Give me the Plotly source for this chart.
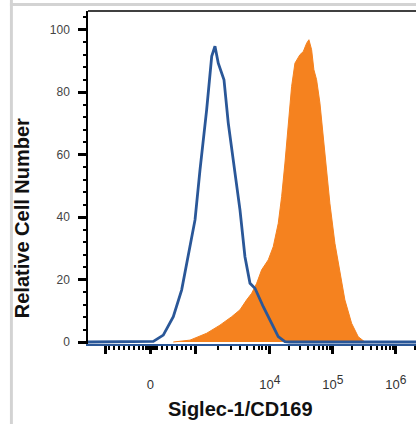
import plotly.graph_objects as go

# Display units: decades on a biexponential-like scale (10^4 -> 4, 10^5 -> 5 ...)
isotype_x = [1.11, 2.10, 2.148, 2.306, 2.465, 2.598, 2.730, 2.810, 2.889, 2.995, 3.075, 3.127,
             3.179, 3.233, 3.270, 3.338, 3.444, 3.524, 3.603, 3.683, 3.762, 3.894, 4.027,
             4.132, 4.238, 4.317, 6.32]
isotype_y = [0, 0, 0.2, 2.2, 8.1, 16.7, 30.5, 39.1, 55.1, 74.4, 91.5, 94.7,
             89.3, 86.1, 84.0, 70.1, 55.1, 42.3, 27.3, 18.8, 17.2, 11.3, 6.0,
             1.7, 0.1, 0, 0]

siglec_x = [2.465, 2.730, 2.995, 3.206, 3.392, 3.524, 3.630, 3.710, 3.789, 3.868, 3.973,
            4.052, 4.132, 4.186, 4.238, 4.290, 4.344, 4.397, 4.476, 4.529, 4.583, 4.619,
            4.662, 4.698, 4.741, 4.794, 4.873, 4.952, 5.032, 5.111, 5.190, 5.297, 5.402, 5.508]
siglec_y = [0, 0.6, 2.8, 5.4, 8.1, 10.3, 13.5, 15.6, 18.8, 23.1, 26.3,
            30.5, 38.0, 46.6, 57.3, 70.1, 81.8, 89.3, 92.0, 93.0, 95.7, 96.8,
            93.6, 87.2, 84.0, 76.5, 59.4, 44.4, 31.6, 22.0, 13.5, 6.0, 1.7, 0]

x_major_vals = [1.38, 2.10, 2.81, 4, 5, 6]
x_major_text = [" ", "0", " ",
                "10<sup><span style='font-size:12px'>4</span></sup>",
                "10<sup><span style='font-size:12px'>5</span></sup>",
                "10<sup><span style='font-size:12px'>6</span></sup>"]
x_minor_vals = [1.45, 1.52, 1.60, 1.68, 1.76, 1.84, 1.92, 1.98, 2.03, 2.05, 2.07, 2.09,
                2.11, 2.13, 2.15, 2.17, 2.20, 2.28, 2.36, 2.44, 2.52, 2.60, 2.67, 2.74,
                3.17, 3.38, 3.53, 3.64, 3.74, 3.82, 3.88, 3.94,
                4.30, 4.48, 4.60, 4.70, 4.78, 4.85, 4.90, 4.95,
                5.30, 5.48, 5.60, 5.70, 5.78, 5.85, 5.90, 5.95, 6.30]
y_major_vals = [0, 20, 40, 60, 80, 100]

ORANGE = "#F5821F"
BLUE = "#2A5798"

fig = go.Figure()
fig.add_trace(go.Scatter(x=siglec_x, y=siglec_y, mode="lines", fill="tozeroy",
                         line=dict(color=ORANGE, width=1), fillcolor=ORANGE,
                         hoverinfo="skip", showlegend=False))
fig.add_trace(go.Scatter(x=isotype_x, y=isotype_y, mode="lines",
                         line=dict(color=BLUE, width=2.8),
                         hoverinfo="skip", showlegend=False))

fig.update_layout(
    width=416, height=424,
    margin=dict(l=88, r=0, t=11, b=80),
    paper_bgcolor="white", plot_bgcolor="white",
    font=dict(family="Arial", color="#333333"),
    xaxis=dict(range=[1.11, 6.32], showgrid=False, zeroline=False,
               showline=True, linecolor=BLUE, linewidth=1.5,
               tickmode="array", tickvals=x_major_vals, ticktext=x_major_text,
               ticks="outside", ticklen=8, tickwidth=2.5, tickcolor="black",
               ticklabelstandoff=20, tickfont=dict(size=13, color="#333333"),
               minor=dict(tickmode="array", tickvals=x_minor_vals, ticks="outside",
                          ticklen=4, tickwidth=1.5, tickcolor="black")),
    yaxis=dict(range=[-0.64, 106], showgrid=False, zeroline=False,
               showline=True, linecolor="black", linewidth=1.5,
               tickmode="array", tickvals=y_major_vals,
               ticks="outside", ticklen=8, tickwidth=3, tickcolor="black",
               ticklabelstandoff=6, tickfont=dict(size=12, color="#444444"),
               minor=dict(dtick=4, tick0=0, ticks="outside", ticklen=3,
                          tickwidth=1.5, tickcolor="black")),
    shapes=[
        dict(type="line", xref="paper", yref="paper", x0=0, x1=1, y0=1, y1=1,
             line=dict(color="black", width=1.5)),
        dict(type="rect", xref="paper", yref="paper", x0=-0.238, x1=-0.229,
             y0=-0.25, y1=1.04, fillcolor="#D3D3D3", line=dict(width=0)),
        dict(type="rect", xref="paper", yref="paper", x0=-0.238, x1=1.0,
             y0=1.015, y1=1.024, fillcolor="#D3D3D3", line=dict(width=0)),
    ],
    annotations=[
        dict(text="<b>Relative Cell Number</b>", xref="paper", yref="paper",
             x=-0.201, y=0.378, textangle=-90, showarrow=False,
             xanchor="center", yanchor="middle",
             font=dict(size=20, color="#111111", family="Arial")),
        dict(text="<b>Siglec-1/CD169</b>", xref="paper", yref="paper",
             x=0.466, y=-0.195, showarrow=False,
             xanchor="center", yanchor="middle",
             font=dict(size=20, color="#111111", family="Arial")),
    ],
)

fig.write_html("out.html", config={"displayModeBar": False},
               post_script="document.body.style.margin='0';document.body.style.overflow='hidden';")
